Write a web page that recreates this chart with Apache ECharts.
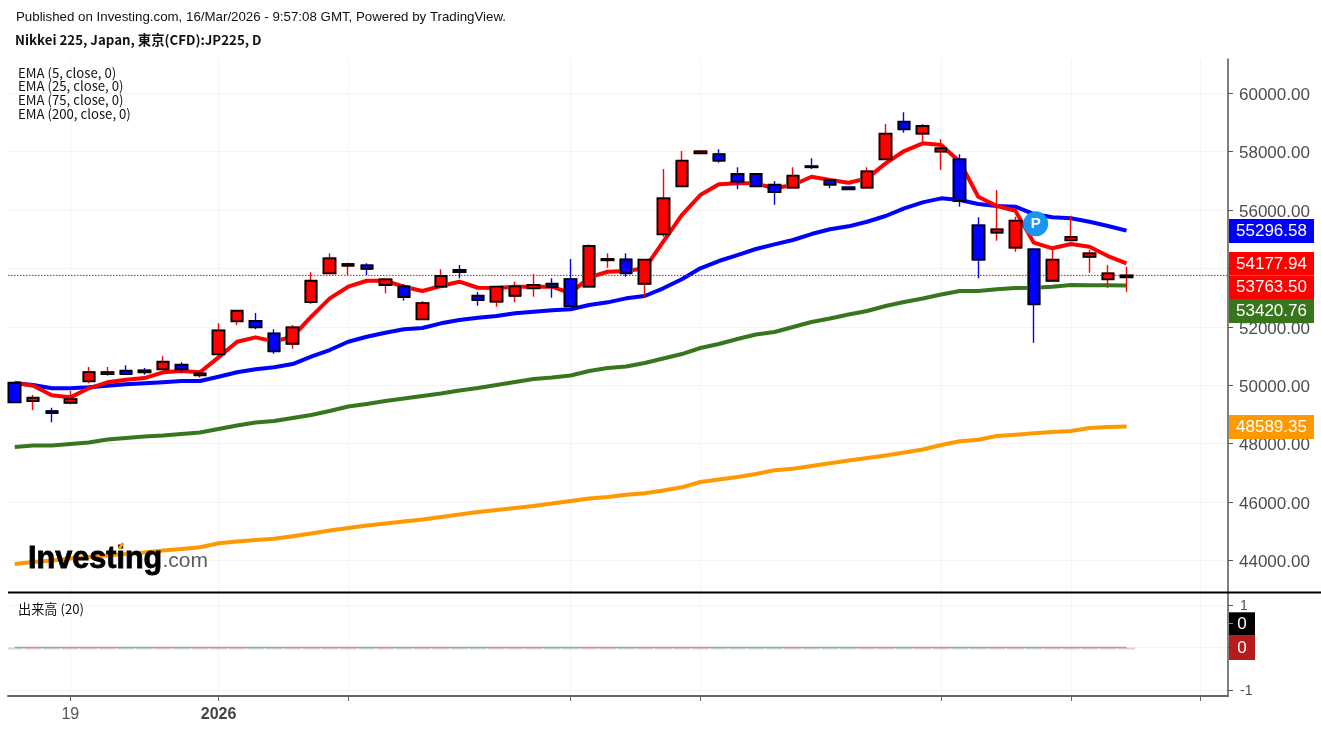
<!DOCTYPE html>
<html>
<head>
<meta charset="utf-8">
<title>Nikkei 225</title>
<script src="https://cdn.jsdelivr.net/npm/echarts@6/dist/echarts.min.js"></script>
<style>
html, body { margin: 0; padding: 0; background: #fff; }
#chart { width: 1321px; height: 730px; }
</style>
</head>
<body>
<div id="chart"></div>
<script>
"use strict"
const opens = [50087,49460,49117,49401,50135,50385,50498,50511,50546,50703,50340,51060,52190,52201,51779,51423,52851,53835,54095,54109,53434,53389,52259,53376,53948,53067,52862,53067,53321,53478,53639,53376,54280,54308,53478,55171,56815,57946,57912,57237,57237,56870,56767,57501,57031,56781,56767,57740,59029,58617,58001,57740,55479,55226,54712,54657,53581,54965,54403,53629,53700];
const closes = [49415,49573,49049,49528,50453,50453,50385,50443,50806,50546,50409,51882,52553,51985,51162,51985,53581,54349,54153,53992,53629,53023,52817,53742,53879,52920,53376,53389,53434,53365,52704,54770,54325,53835,54301,56404,57692,58014,57692,56973,56815,56620,57179,57466,56870,56713,57329,58617,58768,58881,58117,56312,54301,55342,55637,52773,54301,55078,54520,53835,53763.5];
const lows = [49415,49151,48730,49347,50066,50327,50361,50361,50522,50429,50258,51036,52063,51916,51080,51252,52783,53835,53776,53776,53150,52896,52259,53376,53663,52725,52690,52841,53033,52999,52704,53376,54026,53718,53013,55089,56815,57946,57624,56713,56815,56185,56767,57408,56747,56713,56767,57740,58652,58289,57374,56116,53663,54952,54575,51457,53581,54965,53855,53341,53204];
const highs = [50087,49665,49230,49802,50625,50625,50683,50590,50991,50786,50522,52122,52553,52475,51916,52063,53869,54520,54198,54177,53629,53458,52886,53972,54119,53194,53376,53547,53811,53663,54325,54828,54520,54520,54301,57408,58025,58014,58083,57466,57237,56997,57466,57775,57031,56781,57466,58950,59351,58950,58426,57912,55753,56689,55774,54691,54691,55808,54633,54119,54061];

const ema5 = [50087,49985,49656,49587,49896,50101,50190,50248,50444,50488,50444,50957,51492,51642,51505,51663,52348,52978,53376,53581,53581,53376,53228,53399,53547,53341,53331,53376,53376,53376,53149,53697,53889,53913,54006,54917,55831,56516,56883,56917,56917,56746,56859,57143,57030,56938,57088,57602,58023,58287,58229,57657,56458,56139,55979,54883,54691,54838,54746,54427,54177.94];
const ema25 = [50067,50009,49896,49896,49930,49985,50033,50067,50101,50146,50146,50293,50444,50546,50615,50728,50978,51207,51492,51663,51800,51916,51961,52122,52235,52314,52372,52464,52519,52567,52602,52749,52841,52978,53057,53321,53629,54006,54256,54461,54667,54828,54975,55180,55342,55444,55602,55797,56061,56266,56403,56345,56208,56139,56116,55865,55752,55718,55602,55454,55296.58];
const ema75 = [47885,47937,47937,47988,48039,48142,48193,48245,48279,48330,48382,48502,48622,48724,48776,48878,48981,49118,49272,49358,49461,49546,49632,49718,49820,49906,50009,50111,50214,50266,50334,50488,50591,50642,50762,50916,51070,51276,51413,51584,51738,51824,51995,52166,52286,52423,52543,52714,52851,52971,53108,53228,53228,53286,53331,53341,53376,53434,53430,53425,53420.76];
const ema200 = [43878,43946,43998,44066,44118,44169,44220,44272,44341,44392,44450,44587,44649,44700,44741,44827,44923,45025,45111,45197,45265,45334,45402,45488,45573,45659,45727,45796,45864,45950,46036,46121,46173,46252,46299,46395,46505,46686,46772,46858,46961,47087,47139,47235,47327,47423,47509,47594,47697,47800,47954,48084,48132,48262,48303,48354,48399,48433,48536,48570,48589.35];
const volumes = opens.map(function () { return 0; });

const priceTicks = [44000,46000,48000,50000,52000,54000,56000,58000,60000];
const volumeTicks = [-1,0,1];
const timeTicks = [3,11,18,30,37,50,57,64];
const timeLabels = {3: '19', 11: '2026'};

const redColor = '#ff0000';
const blueColor = '#0000ff';
const greenColor = '#38761d';
const orangeColor = '#ff9900';
const axisColor = '#555555';
const gridColor = '#f4f4f4';
const font = '"Liberation Sans", Arial, sans-serif';
const cjkFont = '"Noto Sans CJK JP", "Noto Sans", sans-serif';

let chart = echarts.init(document.getElementById("chart"), null, {renderer: 'canvas'});

let wickData = opens.map(function (o, i) {
    return [i, o, closes[i], lows[i], highs[i]];
});
// body on its own layer: black border, wick stays red / blue
let bodyData = opens.map(function (o, i) {
    return [i, o, closes[i], Math.min(o, closes[i]), Math.max(o, closes[i])];
});
let lineData = function (arr) {
    return arr.map(function (v, i) { return [i, v]; });
};
let emaSeries = function (arr, color, z) {
    return {
        type: 'line', data: lineData(arr), showSymbol: false, symbol: 'none', z: z,
        silent: true, lineStyle: {color: color, width: 4, join: 'round'}
    };
};
// bars hang just under the zero line
let volumeData = volumes.map(function (v, i) {
    return {
        value: [i, v - 0.001],
        itemStyle: {color: closes[i] >= opens[i] ? '#f9c9c9' : '#c4e6c5'}
    };
});

// text helper for the graphic layer
let text = function (x, y, str, size, opt) {
    return {
        type: 'text', x: x, y: y, z: 50, silent: true,
        style: Object.assign({
            text: str, fontSize: size, fontFamily: font, fill: '#111',
            textVerticalAlign: 'middle'
        }, opt || {})
    };
};
let priceBox = function (y, h, w, color, str) {
    return [
        {type: 'rect', z: 40, silent: true, shape: {x: 1229, y: y, width: w, height: h}, style: {fill: color}},
        text(1229 + w / 2, y + h / 2 + 0.5, str, 17, {fill: '#fff', textAlign: 'center'})
    ];
};

let option = {
    animation: false,
    backgroundColor: '#ffffff',
    grid: [
        {left: 8, top: 59, width: 1220, height: 533},
        {left: 8, top: 593, width: 1220, height: 103}
    ],
    xAxis: [0, 1].map(function (g) {
        return {
            type: 'value', gridIndex: g, min: -0.3616, max: 65.477,
            axisLine: {show: g === 1, onZero: false, lineStyle: {color: '#666', width: 2}},
            axisTick: {show: g === 1, customValues: timeTicks, length: 5, lineStyle: {color: '#666', width: 1}},
            axisLabel: {
                show: g === 1, customValues: timeTicks, margin: 11, fontSize: 16, fontFamily: font, color: '#555',
                hideOverlap: false,
                formatter: function (v) {
                    if (v === 11) return '{b|' + timeLabels[v] + '}';
                    return timeLabels[v] || '';
                },
                rich: {b: {fontWeight: 'bold', fontSize: 16, fontFamily: font, color: '#444'}}
            },
            splitLine: {show: true, lineStyle: {color: gridColor, width: 1}}
        };
    }),
    yAxis: [
        {
            type: 'value', gridIndex: 0, position: 'right', min: 42920, max: 61175, scale: true,
            axisLine: {show: true, onZero: false, lineStyle: {color: axisColor, width: 1.5}},
            axisTick: {show: true, customValues: priceTicks, length: 5, lineStyle: {color: axisColor}},
            axisLabel: {
                customValues: priceTicks, margin: 11,
                showMinLabel: true, showMaxLabel: true,
                formatter: function (v) { return '{a|' + v.toFixed(2) + '}'; },
                rich: {a: {fontSize: 17, fontFamily: font, color: '#4d4d4d', padding: [4, 0, 0, 0]}}
            },
            splitLine: {show: true, lineStyle: {color: gridColor, width: 1}}
        },
        {
            type: 'value', gridIndex: 1, position: 'right', min: -1.141, max: 1.282,
            axisLine: {show: true, onZero: false, lineStyle: {color: axisColor, width: 1.5}},
            axisTick: {show: true, customValues: volumeTicks, length: 5, lineStyle: {color: axisColor}},
            axisLabel: {
                customValues: volumeTicks, margin: 12,
                formatter: function (v) { return '{a|' + v + '}'; },
                rich: {a: {fontSize: 14, fontFamily: font, color: '#4d4d4d', padding: [3, 0, 0, 0]}}
            },
            splitLine: {show: true, lineStyle: {color: gridColor, width: 1}}
        }
    ],
    series: [
        {
            type: 'line', data: [[-0.3616, closes[60]], [65.477, closes[60]]], symbol: 'none', z: 3, silent: true,
            lineStyle: {color: redColor, type: [1.5, 1.5], width: 1}
        },
        emaSeries(ema200, orangeColor, 2),
        emaSeries(ema75, greenColor, 2),
        emaSeries(ema25, blueColor, 2),
        emaSeries(ema5, redColor, 2),
        {
            type: 'candlestick', data: wickData, barWidth: 12, z: 4, silent: true,
            itemStyle: {color: redColor, color0: blueColor, borderColor: redColor, borderColor0: blueColor, borderWidth: 1.4}
        },
        {
            type: 'candlestick', data: bodyData, barWidth: 13, z: 5, silent: true,
            itemStyle: {color: '#9a9a9a', color0: '#9a9a9a', borderColor: '#9a9a9a', borderColor0: '#9a9a9a', borderWidth: 1, opacity: 0.75}
        },
        {
            type: 'candlestick', data: bodyData, barWidth: 12, z: 6, silent: true,
            itemStyle: {color: redColor, color0: blueColor, borderColor: '#000', borderColor0: '#000', borderWidth: 1.8},
            markPoint: {
                silent: true, animation: false, z: 8,
                data: [{coord: [55.1, 55530], symbol: 'circle', symbolSize: 23, itemStyle: {color: '#1a96ee', borderColor: '#1a96ee'},
                    label: {show: true, formatter: 'P', color: '#fff', fontWeight: 'bold', fontSize: 15, fontFamily: font}}]
            }
        },
        {
            type: 'bar', xAxisIndex: 1, yAxisIndex: 1, data: volumeData, barWidth: 17, barMinHeight: 2, z: 2, silent: true, clip: true
        },
        {
            type: 'line', xAxisIndex: 1, yAxisIndex: 1, data: lineData(volumes), showSymbol: false, symbol: 'none', z: 3, silent: true,
            lineStyle: {color: '#a3a3a3', width: 1.5}
        }
    ],
    graphic: [
        text(16, 17, 'Published on Investing.com, 16/Mar/2026 - 9:57:08 GMT, Powered by TradingView.', 13.3),
        text(15, 40, 'Nikkei 225, Japan, 東京(CFD):JP225, D', 13.3, {fontFamily: cjkFont, fontWeight: 'bold'}),
        text(18, 73, 'EMA (5, close, 0)', 13.2, {fontFamily: cjkFont}),
        text(18, 86, 'EMA (25, close, 0)', 13.2, {fontFamily: cjkFont}),
        text(18, 100, 'EMA (75, close, 0)', 13.2, {fontFamily: cjkFont}),
        text(18, 114, 'EMA (200, close, 0)', 13.2, {fontFamily: cjkFont}),
        text(18, 609, '出来高 (20)', 13.2, {fontFamily: cjkFont}),
        // logo
        text(28, 559.5, 'Investing', 30.6, {fontWeight: 'bold', fill: '#000', stroke: '#000', lineWidth: 0.8, shadowBlur: 3, shadowColor: 'rgba(0,0,0,0.5)'}),
        text(162.5, 561, '.com', 21, {fill: '#5c5c5c'}),
        {type: 'line', z: 51, silent: true, shape: {x1: 119, y1: 549, x2: 123, y2: 543}, style: {stroke: orangeColor, lineWidth: 3}},
        // first volume bar runs past the pane edge
        {type: 'rect', z: 20, silent: true, shape: {x: 0, y: 640, width: 8, height: 15}, style: {fill: '#fff'}},
        // pane separator
        {type: 'line', z: 30, silent: true, shape: {x1: 8, y1: 592.5, x2: 1321, y2: 592.5}, style: {stroke: '#000', lineWidth: 2}},
        // small tick the volume pane has inside the black box
        {type: 'line', z: 45, silent: true, shape: {x1: 1229, y1: 623.5, x2: 1233, y2: 623.5}, style: {stroke: '#888', lineWidth: 1}}
    ].concat(
        priceBox(219, 24, 85, blueColor, ema25[60].toFixed(2)),
        priceBox(252, 23.5, 85, redColor, ema5[60].toFixed(2)),
        priceBox(275.5, 23.5, 85, redColor, closes[60].toFixed(2)),
        priceBox(299, 24, 85, greenColor, ema75[60].toFixed(2)),
        priceBox(415, 24, 85, orangeColor, ema200[60].toFixed(2)),
        priceBox(612.3, 23.4, 26, '#000000', String(volumes[60])),
        priceBox(635.7, 24.3, 26, '#b71c1c', String(volumes[60]))
    )
};
chart.setOption(option);
</script>
</body>
</html>
